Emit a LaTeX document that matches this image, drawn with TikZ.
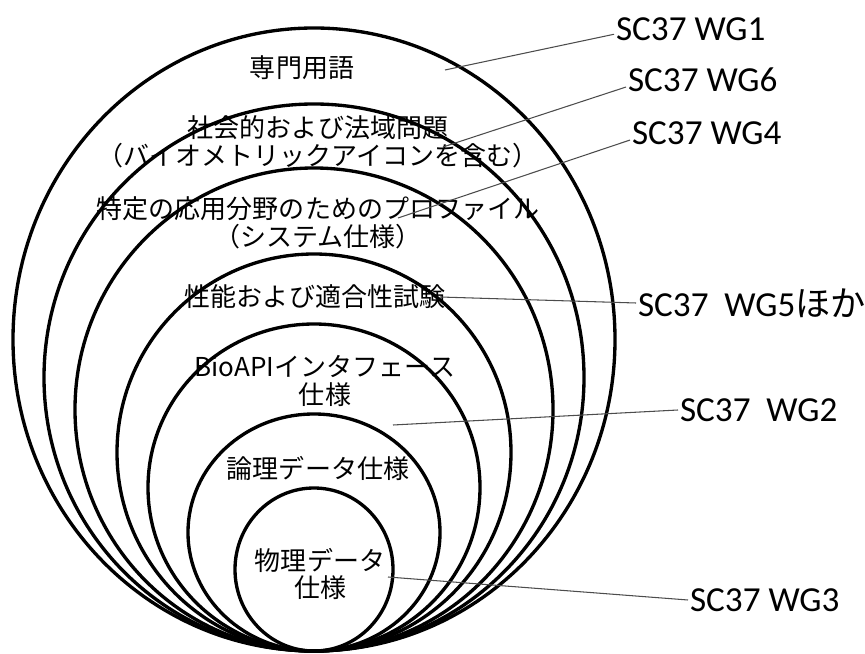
\documentclass[tikz,border=0pt]{standalone}
\usepackage{fontspec}
\setmainfont{Carlito}
\newfontfamily\jpfont{Noto Sans CJK JP}
\tikzset{
  ring/.style={line width=1.9pt},
  lead/.style={gray!60!black, line width=0.6pt},
  area/.style={font=\jpfont\fontsize{14.8}{15.8}\selectfont, align=center, inner sep=0pt},
  wg/.style={anchor=west, inner sep=1pt, font=\fontsize{20}{22}\selectfont}
}
\begin{document}
\begin{tikzpicture}[x=0.02cm,y=0.02cm]
 \useasboundingbox (0,0) rectangle (865,653);
 \foreach \rx/\h in {301/623,270/547,239/483,197/397,166/327,126/237,79/163}
   \draw[ring] (314,2) ++(0,\h/2) ellipse [x radius=\rx, y radius=\h/2];
 \node[area] (terms) at (302,585) {専門用語};
 \node[area] (social) at (318,511) {社会的および法域問題\\（バイオメトリックアイコンを含む）};
 \node[area] (profile) at (318,430) {特定の応用分野のためのプロファイル\\（システム仕様）};
 \node[area] (test) at (315,356) {性能および適合性試験};
 \node[area] (bioapi) at (325,272) {BioAPIインタフェース\\仕様};
 \node[area] (logical) at (318,185) {論理データ仕様};
 \node[area] (physical) at (320,79) {物理データ\\仕様};
 \node[wg] (wg1) at (614,624) {SC37 WG1};
 \node[wg] (wg6) at (626,573) {SC37 WG6};
 \node[wg] (wg4) at (630,520) {SC37 WG4};
 \node[wg] (wg5) at (636,350) {SC37\hspace{0.45em}WG5{\jpfont ほか}};
 \node[wg] (wg2) at (678,243) {SC37\hspace{0.45em}WG2};
 \node[wg] (wg3) at (688,53) {SC37 WG3};
 \coordinate (c1) at (445,583);
 \coordinate (c6) at (443,506);
 \coordinate (c4) at (398,435);
 \coordinate (c5) at (440,356);
 \coordinate (c2) at (393,228);
 \coordinate (c3) at (388,76);
 \draw[lead] (c1) -- ([yshift=-3pt]wg1.west);
 \draw[lead] (c6) -- ([yshift=-4pt]wg6.west);
 \draw[lead] (c4) -- ([yshift=-4pt]wg4.west);
 \draw[lead] (c5) -- (wg5.west);
 \draw[lead] (c2) -- (wg2.west);
 \draw[lead] (c3) -- (wg3.west);
\end{tikzpicture}
\end{document}
